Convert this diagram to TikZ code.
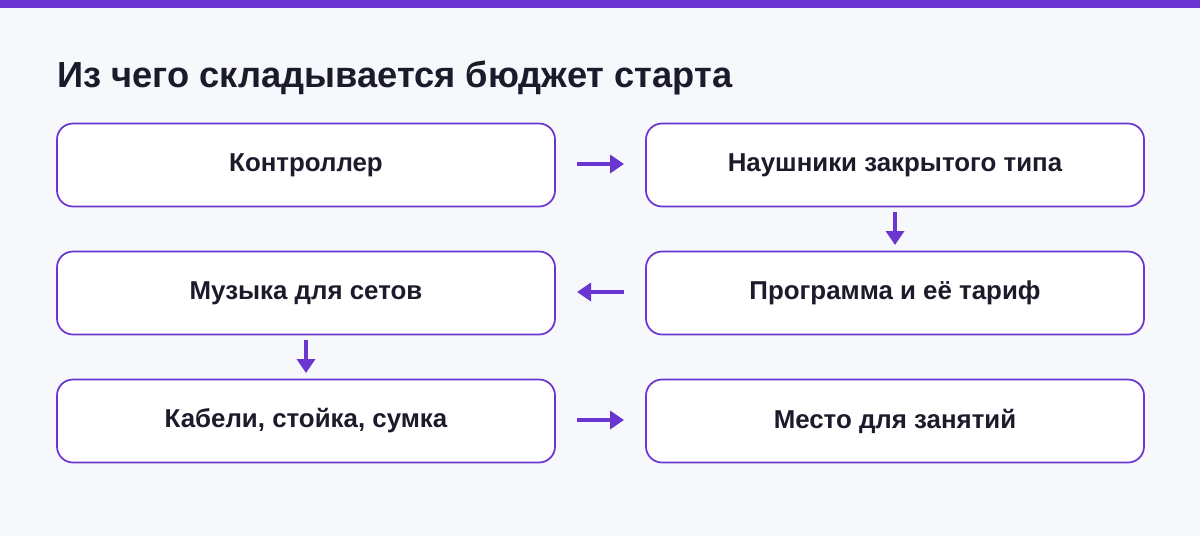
\documentclass[tikz,border=0pt]{standalone}
\usepackage{fontspec}
\setmainfont{Liberation Sans}
\usetikzlibrary{arrows.meta}
\definecolor{pur}{HTML}{6A35D0}
\definecolor{bg}{HTML}{F7F8FC}
\definecolor{ink}{HTML}{1B1B2B}
\begin{document}
\begin{tikzpicture}[x=0.75pt,y=-0.75pt,
  box/.style={draw=pur,line width=1.3pt,fill=white,rounded corners=12pt,minimum width=373.5pt,minimum height=62.25pt,font=\bfseries\fontsize{19.4}{23}\selectfont,text=ink},
  arr/.style={pur,line width=3pt,-{Triangle[length=10.5pt,width=13.5pt]}}]
\fill[bg] (0,0) rectangle (1200,536);
\useasboundingbox (0,0) rectangle (1200,536);
\fill[pur] (0,0) rectangle (1200,8);
\node[anchor=west,text=ink,font=\bfseries\fontsize{27.2}{31}\selectfont,inner xsep=0pt] (t) at (57,78) {Из чего складывается бюджет старта};
\node[box] (a) at (306,165) {Контроллер};
\node[box] (b) at (895,165) {Наушники закрытого типа};
\node[box] (c) at (895,293) {Программа и её тариф};
\node[box] (d) at (306,293) {Музыка для сетов};
\node[box] (e) at (306,421) {Кабели, стойка, сумка};
\node[box] (f) at (895,421) {Место для занятий};
\coordinate (a1) at (577,164); \coordinate (a2) at (624,164);
\draw[arr] (a1) -- (a2);
\coordinate (b1) at (895,212); \coordinate (b2) at (895,245);
\draw[arr] (b1) -- (b2);
\coordinate (c1) at (624,292); \coordinate (c2) at (577,292);
\draw[arr] (c1) -- (c2);
\coordinate (d1) at (306,340); \coordinate (d2) at (306,373);
\draw[arr] (d1) -- (d2);
\coordinate (e1) at (577,420); \coordinate (e2) at (624,420);
\draw[arr] (e1) -- (e2);
\end{tikzpicture}
\end{document}
